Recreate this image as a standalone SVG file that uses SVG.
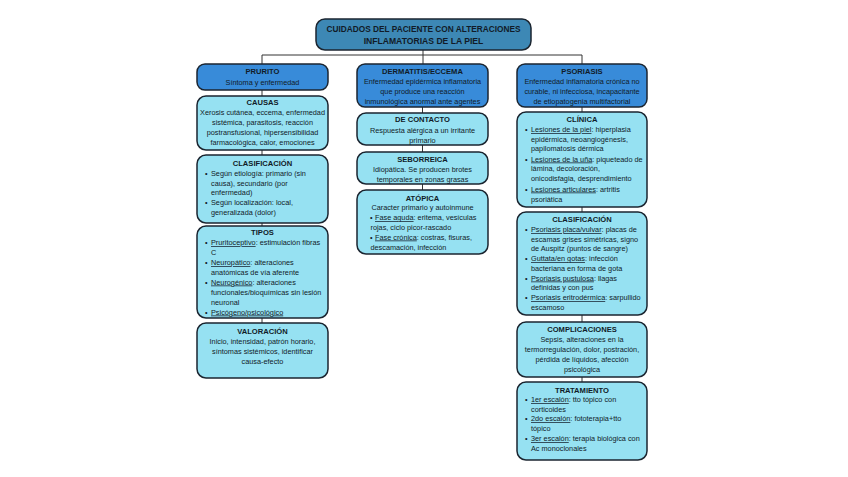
<svg xmlns="http://www.w3.org/2000/svg" width="848" height="477" viewBox="0 0 848 477">
<style>
text{font-family:"Liberation Sans",Arial,sans-serif;fill:#111b28;font-size:7.3px}
.c{text-anchor:middle}
.t{font-weight:bold;font-size:7.6px}
.mt{font-weight:bold;font-size:8.6px;text-anchor:middle}
.u{text-decoration:underline}
.root{fill:#3d88b5;stroke:#1b2530;stroke-width:1.5}
.head{fill:#388bd9;stroke:#1b2530;stroke-width:1.5}
.box{fill:#96e1f2;stroke:#1b2530;stroke-width:1.5}
.ln{stroke:#333;stroke-width:1;fill:none}
</style>
<rect width="848" height="477" fill="#ffffff"/>
<g id="connectors">
<path class="ln" d="M423 50V55M262 55H582M262 55V64M423 55V64M582 55V64"/>
<path class="ln" d="M262 90V96M262 150V155M262 223V226M262 318V323"/>
<path class="ln" d="M422.5 107V113M422.5 145V152M422.5 184V190"/>
<path class="ln" d="M582 107V112M582 207V212M582 315V322M582 377V382"/>
</g>
<g id="root">
<rect class="root" x="316" y="19" width="215" height="31" rx="9"/>
<text class="mt" x="423.5" y="32" textLength="194" lengthAdjust="spacingAndGlyphs">CUIDADOS DEL PACIENTE CON ALTERACIONES</text>
<text class="mt" x="423.5" y="44">INFLAMATORIAS DE LA PIEL</text>
</g>
<g id="prurito">
<rect class="head" x="197" y="64" width="131" height="26" rx="8"/>
<text class="t c" x="262.5" y="74">PRURITO</text>
<text class="c" x="262.5" y="85">Síntoma y enfermedad</text>
</g>
<g id="causas">
<rect class="box" x="197" y="96" width="131" height="54" rx="9"/>
<text class="t c" x="262.5" y="105">CAUSAS</text>
<text class="c" x="262.5" y="115">Xerosis cutánea, eccema, enfermedad</text>
<text class="c" x="262.5" y="125">sistémica, parasitosis, reacción</text>
<text class="c" x="262.5" y="135">postransfusional, hipersensibilidad</text>
<text class="c" x="262.5" y="145">farmacológica, calor, emociones</text>
</g>
<g id="clasificacion1">
<rect class="box" x="197" y="155" width="131" height="68" rx="9"/>
<text class="t c" x="262.5" y="166">CLASIFICACIÓN</text>
<text x="205" y="175.5">•</text><text x="211" y="175.5">Según etiología: primario (sin</text>
<text x="211" y="185.5">causa), secundario (por</text>
<text x="211" y="195">enfermedad)</text>
<text x="205" y="205">•</text><text x="211" y="205">Según localización: local,</text>
<text x="211" y="214.5">generalizada (dolor)</text>
</g>
<g id="tipos">
<rect class="box" x="197" y="226" width="131" height="92" rx="9"/>
<text class="t c" x="262.5" y="235">TIPOS</text>
<text x="205" y="245">•</text><text x="211" y="245"><tspan class="u">Pruritoceptivo</tspan>: estimulación fibras</text>
<text x="211" y="254.5">C</text>
<text x="205" y="265">•</text><text x="211" y="265"><tspan class="u">Neuropático</tspan>: alteraciones</text>
<text x="211" y="274.5">anatómicas de vía aferente</text>
<text x="205" y="284.5">•</text><text x="211" y="284.5"><tspan class="u">Neurogénico</tspan>: alteraciones</text>
<text x="211" y="294.5">funcionales/bioquímicas sin lesión</text>
<text x="211" y="304.5">neuronal</text>
<text x="205" y="314.5">•</text><text x="211" y="314.5"><tspan class="u">Psicógeno/psicológico</tspan></text>
</g>
<g id="valoracion">
<rect class="box" x="197" y="323" width="131" height="55" rx="9"/>
<text class="t c" x="262.5" y="333.5">VALORACIÓN</text>
<text class="c" x="262.5" y="343.5">Inicio, intensidad, patrón horario,</text>
<text class="c" x="262.5" y="353.5">síntomas sistémicos, identificar</text>
<text class="c" x="262.5" y="363.5">causa-efecto</text>
</g>
<g id="dermatitis">
<rect class="head" x="357" y="64" width="131" height="43" rx="8"/>
<text class="t c" x="422.5" y="73.5">DERMATITIS/ECCEMA</text>
<text class="c" x="422.5" y="83.5">Enfermedad epidérmica inflamatoria</text>
<text class="c" x="422.5" y="93.5">que produce una reacción</text>
<text class="c" x="422.5" y="103.5">inmunológica anormal ante agentes</text>
</g>
<g id="contacto">
<rect class="box" x="357" y="113" width="131" height="32" rx="9"/>
<text class="t c" x="422.5" y="122">DE CONTACTO</text>
<text class="c" x="422.5" y="133">Respuesta alérgica a un irritante</text>
<text class="c" x="422.5" y="143">primario</text>
</g>
<g id="seborreica">
<rect class="box" x="357" y="152" width="131" height="32" rx="9"/>
<text class="t c" x="422.5" y="162">SEBORREICA</text>
<text class="c" x="422.5" y="172">Idiopática. Se producen brotes</text>
<text class="c" x="422.5" y="181.5">temporales en zonas grasas</text>
</g>
<g id="atopica">
<rect class="box" x="357" y="190" width="131" height="64" rx="9"/>
<text class="t c" x="422.5" y="200.5">ATÓPICA</text>
<text class="c" x="422.5" y="210">Caracter primario y autoinmune</text>
<text x="370" y="220">•</text><text x="375" y="220"><tspan class="u">Fase aguda</tspan>: eritema, vesículas</text>
<text x="370.5" y="229.5">rojas, ciclo picor-rascado</text>
<text x="370" y="239.5">•</text><text x="375" y="239.5"><tspan class="u">Fase crónica</tspan>: costras, fisuras,</text>
<text x="370.5" y="249.5">descamación, infección</text>
</g>
<g id="psoriasis">
<rect class="head" x="517" y="64" width="130" height="43" rx="8"/>
<text class="t c" x="582" y="73.5">PSORIASIS</text>
<text class="c" x="582" y="83.5">Enfermedad inflamatoria crónica no</text>
<text class="c" x="582" y="93.5">curable, ni infecciosa, incapacitante</text>
<text class="c" x="582" y="103.5">de etiopatogenia multifactorial</text>
</g>
<g id="clinica">
<rect class="box" x="517" y="112" width="130" height="95" rx="9"/>
<text class="t c" x="582" y="122">CLÍNICA</text>
<text x="525" y="132">•</text><text x="531" y="132"><tspan class="u">Lesiones de la piel</tspan>: hiperplasia</text>
<text x="531" y="141.5">epidérmica, neoangiogénesis,</text>
<text x="531" y="151">papilomatosis dérmica</text>
<text x="525" y="161.5">•</text><text x="531" y="161.5"><tspan class="u">Lesiones de la uña</tspan>: piqueteado de</text>
<text x="531" y="171">lámina, decoloración,</text>
<text x="531" y="181">onicodisfagia, desprendimiento</text>
<text x="525" y="191.5">•</text><text x="531" y="191.5"><tspan class="u">Lesiones articulares</tspan>: artritis</text>
<text x="531" y="201.5">psoriática</text>
</g>
<g id="clasificacion2">
<rect class="box" x="517" y="212" width="130" height="103" rx="9"/>
<text class="t c" x="582" y="222">CLASIFICACIÓN</text>
<text x="525" y="232">•</text><text x="531" y="232"><tspan class="u">Psoriasis placa/vulvar</tspan>: placas de</text>
<text x="531" y="241.5">escamas grises simétricas, signo</text>
<text x="531" y="251">de Auspitz (puntos de sangre)</text>
<text x="525" y="261">•</text><text x="531" y="261"><tspan class="u">Guttata/en gotas</tspan>: infección</text>
<text x="531" y="270.5">bacteriana en forma de gota</text>
<text x="525" y="280.5">•</text><text x="531" y="280.5"><tspan class="u">Psoriasis pustulosa</tspan>: llagas</text>
<text x="531" y="290">definidas y con pus</text>
<text x="525" y="300">•</text><text x="531" y="300"><tspan class="u">Psoriasis eritrodérmica</tspan>: sarpullido</text>
<text x="531" y="309.5">escamoso</text>
</g>
<g id="complicaciones">
<rect class="box" x="517" y="322" width="130" height="55" rx="9"/>
<text class="t c" x="582" y="332">COMPLICACIONES</text>
<text class="c" x="582" y="342">Sepsis, alteraciones en la</text>
<text class="c" x="582" y="352">termorregulación, dolor, postración,</text>
<text class="c" x="582" y="361.5">pérdida de líquidos, afección</text>
<text class="c" x="582" y="371.5">psicológica</text>
</g>
<g id="tratamiento">
<rect class="box" x="517" y="382" width="130" height="78" rx="9"/>
<text class="t c" x="582" y="392.5">TRATAMIENTO</text>
<text x="525" y="402">•</text><text x="531" y="402"><tspan class="u">1er escalón</tspan>: tto tópico con</text>
<text x="531" y="411.5">corticoides</text>
<text x="525" y="421">•</text><text x="531" y="421"><tspan class="u">2do escalón</tspan>: fototerapia+tto</text>
<text x="531" y="430.5">tópico</text>
<text x="525" y="441">•</text><text x="531" y="441"><tspan class="u">3er escalón</tspan>: terapia biológica con</text>
<text x="531" y="450.5">Ac monoclonales</text>
</g>
</svg>
